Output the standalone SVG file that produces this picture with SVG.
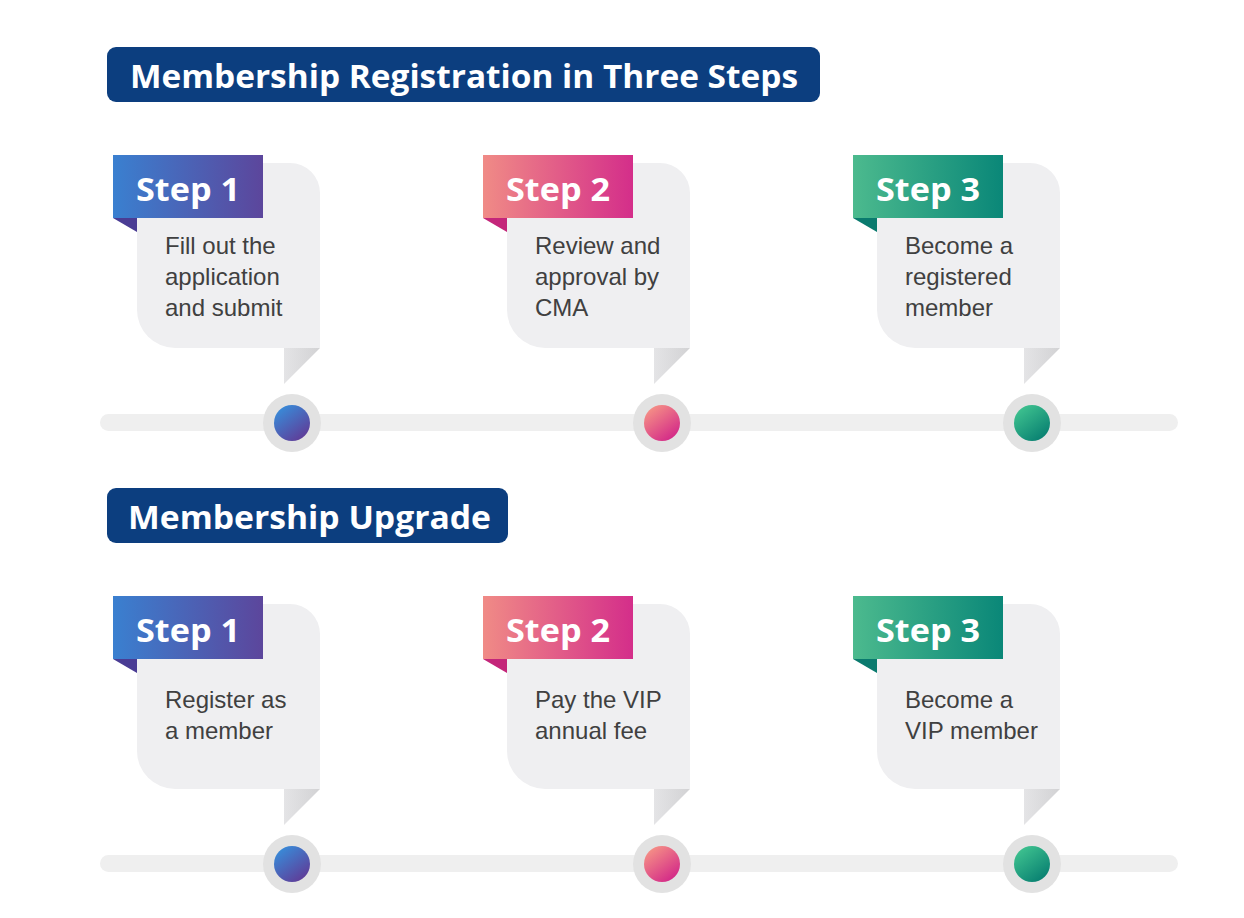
<svg xmlns="http://www.w3.org/2000/svg" width="1244" height="918" viewBox="0 0 1244 918">
<defs>
<linearGradient id="g1" x1="0" y1="0" x2="1" y2="0"><stop offset="0" stop-color="#3a80d0"/><stop offset="1" stop-color="#5c469c"/></linearGradient>
<linearGradient id="g2" x1="0" y1="0" x2="1" y2="0"><stop offset="0" stop-color="#f08b86"/><stop offset="1" stop-color="#d42e8a"/></linearGradient>
<linearGradient id="g3" x1="0" y1="0" x2="1" y2="0"><stop offset="0" stop-color="#4cba8e"/><stop offset="1" stop-color="#0a8778"/></linearGradient>
<linearGradient id="c1" x1="0.2" y1="0.1" x2="0.8" y2="0.9"><stop offset="0" stop-color="#3a88d6"/><stop offset="1" stop-color="#5e3f9a"/></linearGradient>
<linearGradient id="c2" x1="0.2" y1="0.1" x2="0.8" y2="0.9"><stop offset="0" stop-color="#f48c86"/><stop offset="1" stop-color="#d42c88"/></linearGradient>
<linearGradient id="c3" x1="0.2" y1="0.1" x2="0.8" y2="0.9"><stop offset="0" stop-color="#3cbf8e"/><stop offset="1" stop-color="#0a8272"/></linearGradient>
<linearGradient id="tail" x1="0" y1="0" x2="1" y2="0"><stop offset="0" stop-color="#e4e4e6"/><stop offset="1" stop-color="#d2d2d4"/></linearGradient>
<g id="card">
<path d="M137,163 H290 A30,30 0 0 1 320,193 V348 H175 A38,38 0 0 1 137,310 Z" fill="#efeff1"/>
<polygon points="284,348 320,348 284,384" fill="url(#tail)"/>
</g>
</defs>
<style>
.title{font-family:"Open Sans","Noto Sans",sans-serif;font-weight:bold;font-size:33px;fill:#ffffff}
.step{font-family:"Open Sans","Noto Sans",sans-serif;font-weight:bold;font-size:33px;fill:#ffffff}
.body{font-family:"Liberation Sans",Arial,sans-serif;font-size:24px;fill:#404040}
.bar{fill:#efefef}
.ring{fill:#e2e2e2}
.banner{fill:#0c3e7f}
</style>
<rect width="1244" height="918" fill="#ffffff"/>

<g id="title-registration">
<rect class="banner" x="107" y="47" width="713" height="55" rx="9"/>
<text class="title" x="130" y="88" textLength="668" lengthAdjust="spacingAndGlyphs">Membership Registration in Three Steps</text>
</g>
<g id="title-upgrade">
<rect class="banner" x="107" y="488" width="401" height="55" rx="9"/>
<text class="title" x="128" y="529" textLength="363" lengthAdjust="spacingAndGlyphs">Membership Upgrade</text>
</g>

<g id="connectors">
<rect class="bar" x="100" y="414" width="1078" height="17" rx="8.5"/>
<rect class="bar" x="100" y="855" width="1078" height="17" rx="8.5"/>
</g>

<!-- Row 1 -->
<g id="reg-step1">
<use href="#card"/>
<rect x="113" y="155" width="150" height="63" fill="url(#g1)"/>
<polygon points="113,218 137,218 137,232" fill="#4a3c94"/>
<text class="step" x="136" y="201" textLength="104" lengthAdjust="spacingAndGlyphs">Step 1</text>
<text class="body" x="165" y="254">Fill out the</text>
<text class="body" x="165" y="285">application</text>
<text class="body" x="165" y="316">and submit</text>
<circle class="ring" cx="292" cy="423" r="29"/>
<circle cx="292" cy="423" r="18" fill="url(#c1)"/>
</g>
<g id="reg-step2" transform="translate(370,0)">
<use href="#card"/>
<rect x="113" y="155" width="150" height="63" fill="url(#g2)"/>
<polygon points="113,218 137,218 137,232" fill="#c4267a"/>
<text class="step" x="136" y="201" textLength="104" lengthAdjust="spacingAndGlyphs">Step 2</text>
<text class="body" x="165" y="254">Review and</text>
<text class="body" x="165" y="285">approval by</text>
<text class="body" x="165" y="316">CMA</text>
<circle class="ring" cx="292" cy="423" r="29"/>
<circle cx="292" cy="423" r="18" fill="url(#c2)"/>
</g>
<g id="reg-step3" transform="translate(740,0)">
<use href="#card"/>
<rect x="113" y="155" width="150" height="63" fill="url(#g3)"/>
<polygon points="113,218 137,218 137,232" fill="#0a7a6e"/>
<text class="step" x="136" y="201" textLength="104" lengthAdjust="spacingAndGlyphs">Step 3</text>
<text class="body" x="165" y="254">Become a</text>
<text class="body" x="165" y="285">registered</text>
<text class="body" x="165" y="316">member</text>
<circle class="ring" cx="292" cy="423" r="29"/>
<circle cx="292" cy="423" r="18" fill="url(#c3)"/>
</g>

<!-- Row 2 -->
<g id="up-step1" transform="translate(0,441)">
<use href="#card"/>
<rect x="113" y="155" width="150" height="63" fill="url(#g1)"/>
<polygon points="113,218 137,218 137,232" fill="#4a3c94"/>
<text class="step" x="136" y="201" textLength="104" lengthAdjust="spacingAndGlyphs">Step 1</text>
<text class="body" x="165" y="267">Register as</text>
<text class="body" x="165" y="298">a member</text>
<circle class="ring" cx="292" cy="423" r="29"/>
<circle cx="292" cy="423" r="18" fill="url(#c1)"/>
</g>
<g id="up-step2" transform="translate(370,441)">
<use href="#card"/>
<rect x="113" y="155" width="150" height="63" fill="url(#g2)"/>
<polygon points="113,218 137,218 137,232" fill="#c4267a"/>
<text class="step" x="136" y="201" textLength="104" lengthAdjust="spacingAndGlyphs">Step 2</text>
<text class="body" x="165" y="267">Pay the VIP</text>
<text class="body" x="165" y="298">annual fee</text>
<circle class="ring" cx="292" cy="423" r="29"/>
<circle cx="292" cy="423" r="18" fill="url(#c2)"/>
</g>
<g id="up-step3" transform="translate(740,441)">
<use href="#card"/>
<rect x="113" y="155" width="150" height="63" fill="url(#g3)"/>
<polygon points="113,218 137,218 137,232" fill="#0a7a6e"/>
<text class="step" x="136" y="201" textLength="104" lengthAdjust="spacingAndGlyphs">Step 3</text>
<text class="body" x="165" y="267">Become a</text>
<text class="body" x="165" y="298">VIP member</text>
<circle class="ring" cx="292" cy="423" r="29"/>
<circle cx="292" cy="423" r="18" fill="url(#c3)"/>
</g>
</svg>
